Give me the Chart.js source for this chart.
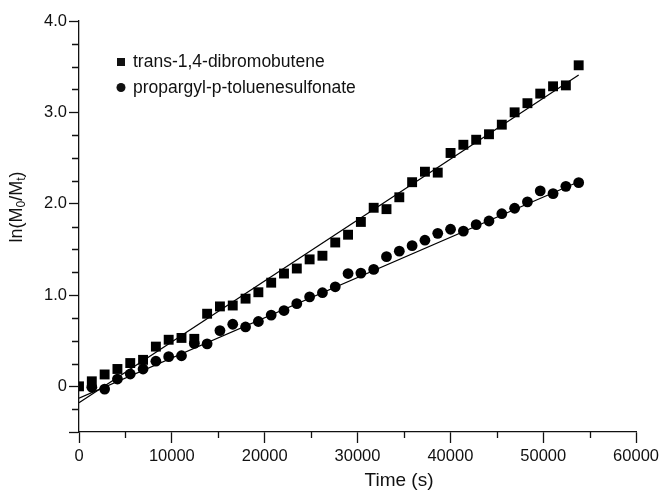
<!DOCTYPE html>
<html>
<head>
<meta charset="utf-8">
<script src="https://cdn.jsdelivr.net/npm/chart.js@4"></script>
<style>
  html, body { margin: 0; padding: 0; background: #fff; }
  #wrap { width: 663px; height: 493px; }
</style>
</head>
<body>
<div id="wrap"><canvas id="kinetics"></canvas></div>
<script>
// time points (s)
const times = [0, 1380, 2760, 4140, 5520, 6900, 8280, 9660, 11040, 12420,
  13800, 15180, 16560, 17940, 19320, 20700, 22080, 23460, 24840, 26220,
  27600, 28980, 30360, 31740, 33120, 34500, 35880, 37260, 38640, 40020,
  41400, 42780, 44160, 45540, 46920, 48300, 49680, 51060, 52440, 53820];

// trans-1,4-dibromobutene, ln(M0/Mt)
const dibromo = [0.0, 0.055, 0.13, 0.19, 0.255, 0.29, 0.435, 0.51, 0.53, 0.52,
  0.795, 0.875, 0.885, 0.96, 1.03, 1.135, 1.235, 1.29, 1.39, 1.43,
  1.575, 1.66, 1.80, 1.955, 1.94, 2.07, 2.235, 2.35, 2.34, 2.555,
  2.645, 2.70, 2.76, 2.865, 3.00, 3.10, 3.205, 3.285, 3.295, 3.515];

// propargyl-p-toluenesulfonate, starts at second time point
const propargyl = [null, -0.01, -0.03, 0.08, 0.135, 0.19, 0.275, 0.325, 0.335, 0.47,
  0.465, 0.61, 0.68, 0.65, 0.71, 0.78, 0.83, 0.905, 0.98, 1.025,
  1.09, 1.235, 1.24, 1.28, 1.42, 1.48, 1.54, 1.60, 1.675, 1.72,
  1.70, 1.77, 1.81, 1.89, 1.95, 2.02, 2.14, 2.11, 2.19, 2.23];

// linear fits
const fitTimes = [0, 53820];
const fitDibromo = [-0.18, 3.41];
const fitPropargyl = [-0.13, 2.24];

const xTicks = [0, 10000, 20000, 30000, 40000, 50000, 60000];
const yTicks = ['0', '1.0', '2.0', '3.0', '4.0'];

const FONT = '"Liberation Sans", Arial, sans-serif';
const INK = '#111';

function pts(xs, ys) {
  return xs.map((x, i) => ({ x: x, y: ys[i] }));
}

// minor ticks, axis titles (with subscripts) and the inset legend
const extras = {
  id: 'extras',
  afterDraw(chart) {
    const ctx = chart.ctx;
    const xs = chart.scales.x, ys = chart.scales.y;
    const a = chart.chartArea;
    ctx.save();
    ctx.strokeStyle = INK;
    ctx.lineWidth = 1.3;
    ctx.beginPath();
    for (let v = 5000; v < 60000; v += 10000) {
      const px = Math.round(xs.getPixelForValue(v)) + 0.5;
      ctx.moveTo(px, a.bottom);
      ctx.lineTo(px, a.bottom + 6);
    }
    for (let v = -0.25; v < 4; v += 0.25) {
      if (Number.isInteger(v)) continue;
      const py = Math.round(ys.getPixelForValue(v)) + 0.5;
      ctx.moveTo(a.left, py);
      ctx.lineTo(a.left - 7, py);
    }
    ctx.stroke();

    ctx.fillStyle = INK;
    ctx.textBaseline = 'middle';
    ctx.font = '19px ' + FONT;
    ctx.textAlign = 'center';
    ctx.fillText('Time (s)', 399, 481);

    // y title: ln(M0/Mt)
    const parts = [['ln(M', false], ['0', true], ['/M', false], ['t', true], [')', false]];
    const big = '18px ' + FONT, small = '12px ' + FONT;
    let total = 0;
    parts.forEach(p => { ctx.font = p[1] ? small : big; total += ctx.measureText(p[0]).width; });
    ctx.translate(17, 207);
    ctx.rotate(-Math.PI / 2);
    ctx.textAlign = 'left';
    let cx = -total / 2;
    parts.forEach(p => {
      ctx.font = p[1] ? small : big;
      ctx.fillText(p[0], cx, p[1] ? 5 : 0);
      cx += ctx.measureText(p[0]).width;
    });
    ctx.setTransform(1, 0, 0, 1, 0, 0);

    // legend
    ctx.font = '17.5px ' + FONT;
    ctx.fillRect(117, 58, 8, 8);
    ctx.fillText('trans-1,4-dibromobutene', 133, 62);
    ctx.beginPath();
    ctx.arc(121, 87.5, 4.5, 0, Math.PI * 2);
    ctx.fill();
    ctx.fillText('propargyl-p-toluenesulfonate', 133, 88);
    ctx.restore();
  }
};

new Chart(document.getElementById('kinetics'), {
  type: 'scatter',
  data: {
    datasets: [
      {
        label: 'trans-1,4-dibromobutene',
        data: pts(times, dibromo),
        pointStyle: 'rect',
        pointRadius: 7,
        backgroundColor: '#000',
        borderWidth: 0
      },
      {
        label: 'propargyl-p-toluenesulfonate',
        data: pts(times, propargyl),
        pointStyle: 'circle',
        pointRadius: 5.4,
        backgroundColor: '#000',
        borderWidth: 0
      },
      {
        label: 'fit 1',
        type: 'line',
        data: pts(fitTimes, fitDibromo),
        borderColor: '#000',
        borderWidth: 1.2,
        pointRadius: 0
      },
      {
        label: 'fit 2',
        type: 'line',
        data: pts(fitTimes, fitPropargyl),
        borderColor: '#000',
        borderWidth: 1.2,
        pointRadius: 0
      }
    ]
  },
  options: {
    responsive: true,
    maintainAspectRatio: false,
    animation: false,
    layout: { padding: { top: 21, right: 24, left: 0, bottom: 0 } },
    plugins: {
      legend: { display: false },
      tooltip: { enabled: false }
    },
    scales: {
      x: {
        type: 'linear',
        min: 0,
        max: 60000,
        afterFit: s => { s.height = 61; },
        border: { color: INK, width: 1.3 },
        grid: {
          drawOnChartArea: false,
          tickLength: 11,
          tickWidth: 1.3,
          tickColor: c => (c.tick && c.tick.value % 10000 === 0) ? INK : 'rgba(0,0,0,0)'
        },
        ticks: {
          stepSize: 5000,
          autoSkip: false,
          maxRotation: 0,
          padding: 4,
          color: INK,
          font: { family: FONT, size: 16.5 },
          callback: v => xTicks.includes(v) ? String(v) : ''
        }
      },
      y: {
        min: -0.5,
        max: 4.0,
        afterFit: s => { s.width = 79; },
        border: { color: INK, width: 1.3 },
        grid: {
          drawOnChartArea: false,
          tickLength: 10,
          tickWidth: 1.3,
          tickColor: c => (c.tick && (Number.isInteger(c.tick.value) || c.tick.value === -0.5)) ? INK : 'rgba(0,0,0,0)'
        },
        ticks: {
          stepSize: 0.25,
          autoSkip: false,
          padding: 2,
          color: INK,
          font: { family: FONT, size: 16.5 },
          callback: v => Number.isInteger(v) && v >= 0 ? yTicks[v] : ''
        }
      }
    }
  },
  plugins: [extras]
});
</script>
</body>
</html>
